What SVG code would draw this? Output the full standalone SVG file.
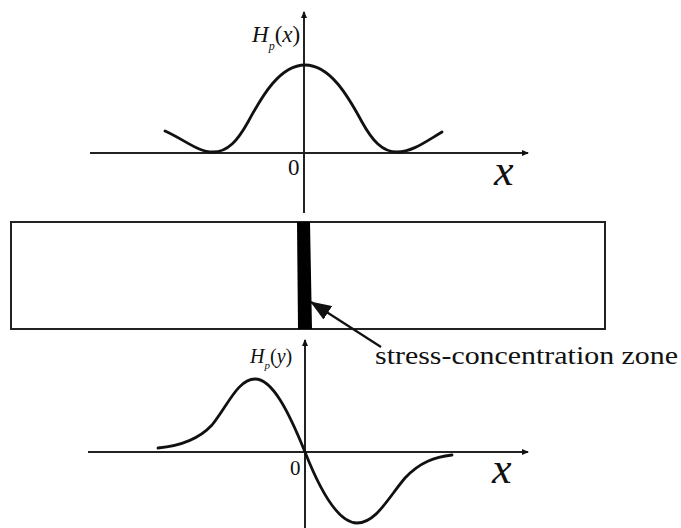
<svg xmlns="http://www.w3.org/2000/svg" width="681" height="528" viewBox="0 0 681 528">
<style>
.ax{stroke:#222;stroke-width:2;fill:none}
.crv{stroke:#111;stroke-width:2.8;fill:none;stroke-linecap:round}
.t{font-family:'Liberation Serif',serif;fill:#111}
.it{font-style:italic}
</style>
<defs>
<marker id="ah" markerWidth="8" markerHeight="8" refX="6" refY="4" orient="auto" markerUnits="userSpaceOnUse">
<path d="M0,1 L7,4 L0,7 Z" fill="#111"/>
</marker>
<marker id="big" markerWidth="22" markerHeight="16" refX="20" refY="8" orient="auto" markerUnits="userSpaceOnUse">
<path d="M0,0 L21,8 L0,16 Z" fill="#111"/>
</marker>
</defs>
<rect width="681" height="528" fill="#fff"/>
<g id="top-plot">
<line class="ax" x1="90" y1="153" x2="528" y2="153" marker-end="url(#ah)"/>
<line class="ax" x1="304" y1="213" x2="304" y2="12" marker-end="url(#ah)"/>
<path class="crv" d="M165,131 C185,140 198,152 213,152 C228,152 238,140 248,122 C262,96 280,65 305,65 C330,65 348,96 362,122 C372,140 382,152 397,152 C412,152 425,142 442,132"/>
<text class="t" x="252" y="42" font-size="23"><tspan class="it">H</tspan><tspan class="it" font-size="12" dy="8">p</tspan><tspan dy="-8">(<tspan class="it">x</tspan>)</tspan></text>
<text class="t" x="288" y="175" font-size="23">0</text>
<text class="t it" x="494" y="185" font-size="44">x</text>
</g>
<g id="bar">
<rect x="11" y="222" width="594" height="107" fill="none" stroke="#222" stroke-width="2"/>
<polygon points="297,222 310,222 312,329 298,329" fill="#000"/>
</g>
<g id="label">
<text class="t" x="375" y="364" font-size="26" textLength="303" lengthAdjust="spacingAndGlyphs">stress-concentration zone</text>
</g>
<g id="bottom-plot">
<line class="ax" x1="88" y1="452" x2="528" y2="452" marker-end="url(#ah)"/>
<line class="ax" x1="305" y1="528" x2="305" y2="340" marker-end="url(#ah)"/>
<path class="crv" d="M158,448 C180,446 198,440 212,425 C228,405 238,379 255,379 C272,379 288,410 305,452 C320,490 338,523 357,523 C376,523 388,498 405,478 C420,462 435,457 452,455"/>
<text class="t" x="250" y="363" font-size="20"><tspan class="it">H</tspan><tspan class="it" font-size="11" dy="6">p</tspan><tspan dy="-6">(<tspan class="it">y</tspan>)</tspan></text>
<text class="t" x="290" y="475" font-size="21">0</text>
<text class="t it" x="492" y="483" font-size="44">x</text>
</g>
<g id="connectors">
<line x1="381" y1="347" x2="311" y2="302" stroke="#111" stroke-width="2.2" marker-end="url(#big)"/>
</g>
</svg>
